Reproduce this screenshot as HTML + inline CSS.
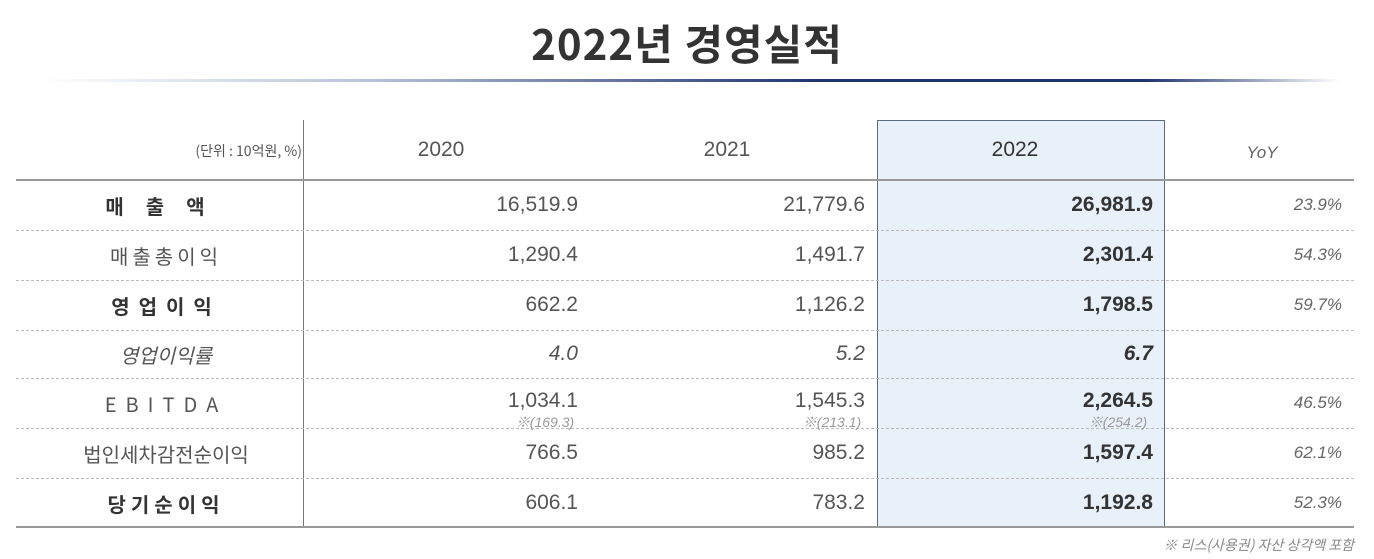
<!DOCTYPE html>
<html><head><meta charset="utf-8"><style>
body{margin:0;width:1374px;height:559px;background:#fff;position:relative;overflow:hidden;font-family:"Liberation Sans","Noto Sans CJK KR",sans-serif;color:#444}
.a{position:absolute;white-space:nowrap}
.t{left:0;width:1374px;text-align:center;top:12px;font-size:42px;font-weight:bold;color:#333;font-family:"Noto Sans CJK KR",sans-serif;letter-spacing:1px}
.gl{left:40px;width:1300px;top:79px;height:3px;background:linear-gradient(90deg,rgba(30,50,110,0),#b9c4d8 25%,#1e3470 60%,#1e3470 85%,rgba(30,50,110,0))}
.hl{left:877px;top:120px;width:286px;height:406px;background:#e8f0fa;border:1px solid #5c6a7e}
.v{left:303px;top:120px;width:1px;height:407px;background:#777}
.h{left:16px;width:1338px;height:2px;background:#999}
.d{left:16px;width:1338px;height:0;border-top:1px dashed #bbb}
.lb{left:16px;width:300px;text-align:center;font-size:20px;color:#555;font-family:"Noto Sans CJK KR",sans-serif}
.b{font-weight:bold;color:#333}
.n{font-size:21px;text-align:right;width:200px;color:#555}
.c1{left:378px}.c2{left:665px}.c3{left:953px;color:#333}.c4{left:1142px;width:200px;font-style:italic;font-size:17px;color:#666}
.s{font-size:14px;font-style:italic;color:#999;text-align:center;width:80px}
</style></head><body>
<div class="a t">2022년 경영실적</div>
<div class="a gl"></div>
<div class="a hl"></div>
<div class="a v"></div>
<div class="a h" style="top:179px"></div>
<div class="a h" style="top:526px"></div>
<div class="a d" style="top:230px"></div>
<div class="a d" style="top:280px"></div>
<div class="a d" style="top:330px"></div>
<div class="a d" style="top:378px"></div>
<div class="a d" style="top:428px"></div>
<div class="a d" style="top:478px"></div>

<div class="a" style="left:100px;width:202px;text-align:right;top:141px;font-size:14px;color:#555;font-family:'Noto Sans CJK KR',sans-serif">(단위 : 10억원, %)</div>
<div class="a" style="left:391px;width:100px;text-align:center;top:138px;font-size:21px;color:#555">2020</div>
<div class="a" style="left:677px;width:100px;text-align:center;top:138px;font-size:21px;color:#555">2021</div>
<div class="a" style="left:965px;width:100px;text-align:center;top:138px;font-size:21px;color:#333">2022</div>
<div class="a" style="left:1212px;width:100px;text-align:center;top:143px;font-size:17px;font-style:italic;color:#666">YoY</div>

<div class="a lb b" style="top:191px;letter-spacing:22px">매출액</div>
<div class="a lb" style="top:241px;letter-spacing:4px">매출총이익</div>
<div class="a lb b" style="top:291px;letter-spacing:9px">영업이익</div>
<div class="a lb" style="top:340px;font-style:italic">영업이익률</div>
<div class="a lb" style="top:389px;letter-spacing:9px">EBITDA</div>
<div class="a lb" style="top:439px">법인세차감전순이익</div>
<div class="a lb b" style="top:489px;letter-spacing:5px">당기순이익</div>

<div class="a n c1" style="top:193px">16,519.9</div><div class="a n c2" style="top:193px">21,779.6</div><div class="a n c3 b" style="top:193px">26,981.9</div><div class="a n c4" style="top:195px">23.9%</div>
<div class="a n c1" style="top:243px">1,290.4</div><div class="a n c2" style="top:243px">1,491.7</div><div class="a n c3 b" style="top:243px">2,301.4</div><div class="a n c4" style="top:245px">54.3%</div>
<div class="a n c1" style="top:293px">662.2</div><div class="a n c2" style="top:293px">1,126.2</div><div class="a n c3 b" style="top:293px">1,798.5</div><div class="a n c4" style="top:295px">59.7%</div>
<div class="a n c1" style="top:342px;font-style:italic">4.0</div><div class="a n c2" style="top:342px;font-style:italic">5.2</div><div class="a n c3 b" style="top:342px;font-style:italic">6.7</div>
<div class="a n c1" style="top:389px">1,034.1</div><div class="a n c2" style="top:389px">1,545.3</div><div class="a n c3 b" style="top:389px">2,264.5</div><div class="a n c4" style="top:393px">46.5%</div>
<div class="a s" style="left:505px;top:412px">※(169.3)</div><div class="a s" style="left:792px;top:412px">※(213.1)</div><div class="a s" style="left:1078px;top:412px">※(254.2)</div>
<div class="a n c1" style="top:441px">766.5</div><div class="a n c2" style="top:441px">985.2</div><div class="a n c3 b" style="top:441px">1,597.4</div><div class="a n c4" style="top:443px">62.1%</div>
<div class="a n c1" style="top:491px">606.1</div><div class="a n c2" style="top:491px">783.2</div><div class="a n c3 b" style="top:491px">1,192.8</div><div class="a n c4" style="top:493px">52.3%</div>

<div class="a" style="left:1054px;width:300px;text-align:right;top:535px;font-size:14px;font-style:italic;color:#888;font-family:'Noto Sans CJK KR',sans-serif">※ 리스(사용권) 자산 상각액 포함</div>
</body></html>
